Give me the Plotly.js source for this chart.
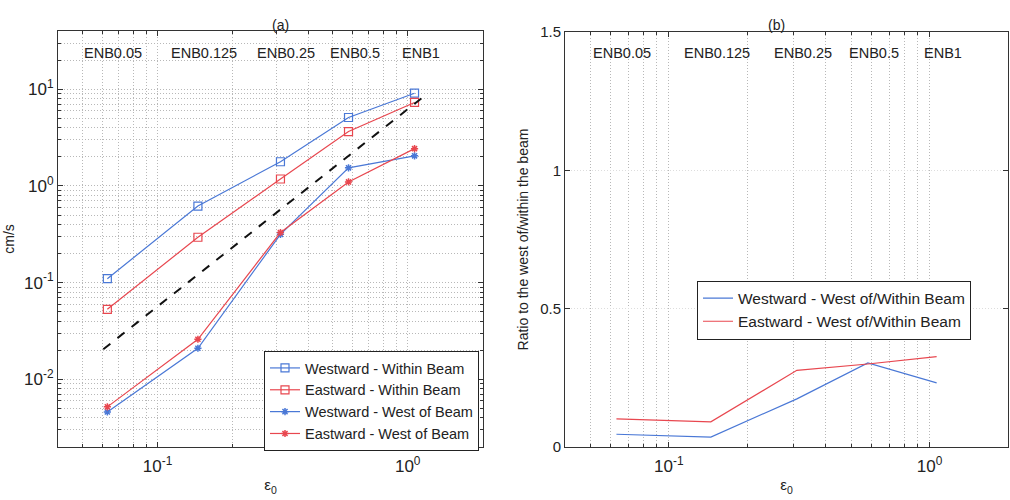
<!DOCTYPE html>
<html>
<head>
<meta charset="utf-8">
<script src="https://cdn.plot.ly/plotly-3.0.1.min.js"></script>
<style>html,body{margin:0;padding:0;background:#fff;}#chart{width:1010px;height:500px;}</style>
</head>
<body>
<div id="chart"></div>
<script>
// ---- data ----
const eps0 = [0.063, 0.145, 0.31, 0.58, 1.065];
const enbLabels = ["ENB0.05", "ENB0.125", "ENB0.25", "ENB0.5", "ENB1"];

const westwardWithin = [0.11, 0.62, 1.78, 5.1, 9.1];
const eastwardWithin = [0.053, 0.295, 1.18, 3.65, 7.3];
const westwardWest   = [0.0046, 0.021, 0.316, 1.54, 2.05];
const eastwardWest   = [0.0052, 0.026, 0.33, 1.1, 2.43];

const refLineX = [0.0607, 1.19];
const refLineY = [0.0205, 8.87];

const westwardRatio = [0.046, 0.036, 0.174, 0.304, 0.232];
const eastwardRatio = [0.102, 0.091, 0.277, 0.300, 0.327];

const seriesNamesA = ["Westward - Within Beam", "Eastward - Within Beam", "Westward - West of Beam", "Eastward - West of Beam"];
const seriesNamesB = ["Westward - West of/Within Beam", "Eastward - West of/Within Beam"];

const xDecades = [0.01, 0.1, 1];
const xDecadeLabels = ["10<sup>-2</sup>", "10<sup>-1</sup>", "10<sup>0</sup>"];
const yDecades = [0.001, 0.01, 0.1, 1, 10];
const yDecadeLabels = ["10<sup>-3</sup>", "10<sup>-2</sup>", "10<sup>-1</sup>", "10<sup>0</sup>", "10<sup>1</sup>"];
const ratioTicks = [0, 0.5, 1, 1.5];
const ratioTickLabels = ["0", "0.5", "1", "1.5"];

// ---- styles ----
const BLUE = "#4a78d6";
const RED = "#e8474f";
const FONT = "Liberation Sans, Arial, sans-serif";
const GRID = "#b8b8b8";

function minorLog(decades) {
  const v = [];
  decades.forEach(d => { for (let m = 2; m <= 9; m++) v.push(m * d); });
  return v;
}

const traces = [
  {x: eps0, y: westwardWithin, name: seriesNamesA[0], mode: "lines+markers", xaxis: "x", yaxis: "y",
   line: {color: BLUE, width: 1.2}, marker: {symbol: "square-open", size: 8, color: BLUE, line: {width: 1.2}}},
  {x: eps0, y: eastwardWithin, name: seriesNamesA[1], mode: "lines+markers", xaxis: "x", yaxis: "y",
   line: {color: RED, width: 1.2}, marker: {symbol: "square-open", size: 8, color: RED, line: {width: 1.2}}},
  {x: eps0, y: westwardWest, name: seriesNamesA[2], mode: "lines+markers", xaxis: "x", yaxis: "y",
   line: {color: BLUE, width: 1.2}, marker: {symbol: "asterisk-open", size: 6, color: BLUE, line: {width: 1.5, color: BLUE}}},
  {x: eps0, y: eastwardWest, name: seriesNamesA[3], mode: "lines+markers", xaxis: "x", yaxis: "y",
   line: {color: RED, width: 1.2}, marker: {symbol: "asterisk-open", size: 6, color: RED, line: {width: 1.5, color: RED}}},
  {x: refLineX, y: refLineY, mode: "lines", xaxis: "x", yaxis: "y", showlegend: false,
   line: {color: "#111", width: 2, dash: "dash"}},
  {x: eps0, y: westwardRatio, name: seriesNamesB[0], mode: "lines", xaxis: "x2", yaxis: "y2", legend: "legend2",
   line: {color: BLUE, width: 1.2}},
  {x: eps0, y: eastwardRatio, name: seriesNamesB[1], mode: "lines", xaxis: "x2", yaxis: "y2", legend: "legend2",
   line: {color: RED, width: 1.2}}
];

const W = 1010, H = 500;
function axBase(extra) {
  return Object.assign({
    showline: true, linecolor: "#333", linewidth: 1, mirror: "ticks",
    ticks: "inside", ticklen: 5, tickcolor: "#333",
    gridcolor: GRID, griddash: "1px,2px", gridwidth: 1, zeroline: false,
    tickfont: {family: FONT, size: 17, color: "#222"}
  }, extra);
}
function minorCfg(vals) {
  return {tickmode: "array", tickvals: vals, ticks: "inside", ticklen: 3, tickcolor: "#333",
          showgrid: true, gridcolor: GRID, griddash: "1px,2px", gridwidth: 1};
}

const annotations = [];
enbLabels.forEach((lab, i) => {
  ["x", "x2"].forEach(xr => {
    annotations.push({xref: xr, yref: "paper", x: Math.log10(eps0[i]), y: 1 - 53 / H, text: lab,
      showarrow: false, xanchor: "center", yanchor: "middle", xshift: 6,
      font: {family: FONT, size: 14.5, color: "#222"}});
  });
});
annotations.push({xref: "paper", yref: "paper", x: 270 / W, y: 1 - 15 / H, text: "(a)", showarrow: false,
  font: {family: FONT, size: 14, color: "#222"}});
annotations.push({xref: "paper", yref: "paper", x: 787 / W, y: 1 - 15 / H, text: "(b)", showarrow: false,
  font: {family: FONT, size: 14, color: "#222"}});

const layout = {
  width: W, height: H,
  margin: {l: 0, r: 0, t: 0, b: 0},
  paper_bgcolor: "#fff", plot_bgcolor: "#fff",
  font: {family: FONT, color: "#222"},
  showlegend: true,
  xaxis: axBase({
    type: "log", domain: [58 / W, 483 / W], range: [Math.log10(0.04), Math.log10(2)], anchor: "y",
    tickmode: "array", tickvals: xDecades, ticktext: xDecadeLabels, ticklabelstandoff: 4,
    minor: minorCfg(minorLog(xDecades)),
    title: {text: "ε<sub>0</sub>", font: {family: FONT, size: 15}, standoff: 4}
  }),
  yaxis: axBase({
    type: "log", domain: [1 - 447 / H, 1 - 31 / H], range: [Math.log10(0.002), Math.log10(40)], anchor: "x",
    tickmode: "array", tickvals: yDecades, ticktext: yDecadeLabels,
    minor: minorCfg(minorLog(yDecades)),
    title: {text: "cm/s", font: {family: FONT, size: 14}, standoff: 6}
  }),
  xaxis2: axBase({
    type: "log", domain: [565 / W, 1008 / W], range: [Math.log10(0.04), Math.log10(2)], anchor: "y2",
    tickmode: "array", tickvals: xDecades, ticktext: xDecadeLabels, ticklabelstandoff: 4,
    minor: minorCfg(minorLog(xDecades)),
    title: {text: "ε<sub>0</sub>", font: {family: FONT, size: 15}, standoff: 4}
  }),
  yaxis2: axBase({
    domain: [1 - 447 / H, 1 - 32 / H], range: [0, 1.5], anchor: "x2",
    tickmode: "array", tickvals: ratioTicks, ticktext: ratioTickLabels,
    tickfont: {family: FONT, size: 15, color: "#222"},
    gridcolor: "#dddddd",
    title: {text: "Ratio to the west of/within the beam", font: {family: FONT, size: 14}, standoff: 8}
  }),
  legend: {x: 479 / W, y: 1 - 401 / H, xanchor: "right", yanchor: "middle",
    bgcolor: "#fff", bordercolor: "#222", borderwidth: 1,
    font: {family: FONT, size: 14.5, color: "#222"}, tracegroupgap: 0, itemwidth: 30},
  legend2: {x: 697 / W, y: 1 - 310 / H, xanchor: "left", yanchor: "middle",
    bgcolor: "#fff", bordercolor: "#222", borderwidth: 1,
    font: {family: FONT, size: 15.5, color: "#222"}, itemwidth: 30},
  annotations: annotations
};

Plotly.newPlot("chart", traces, layout, {displayModeBar: false, staticPlot: true});
</script>
</body>
</html>
